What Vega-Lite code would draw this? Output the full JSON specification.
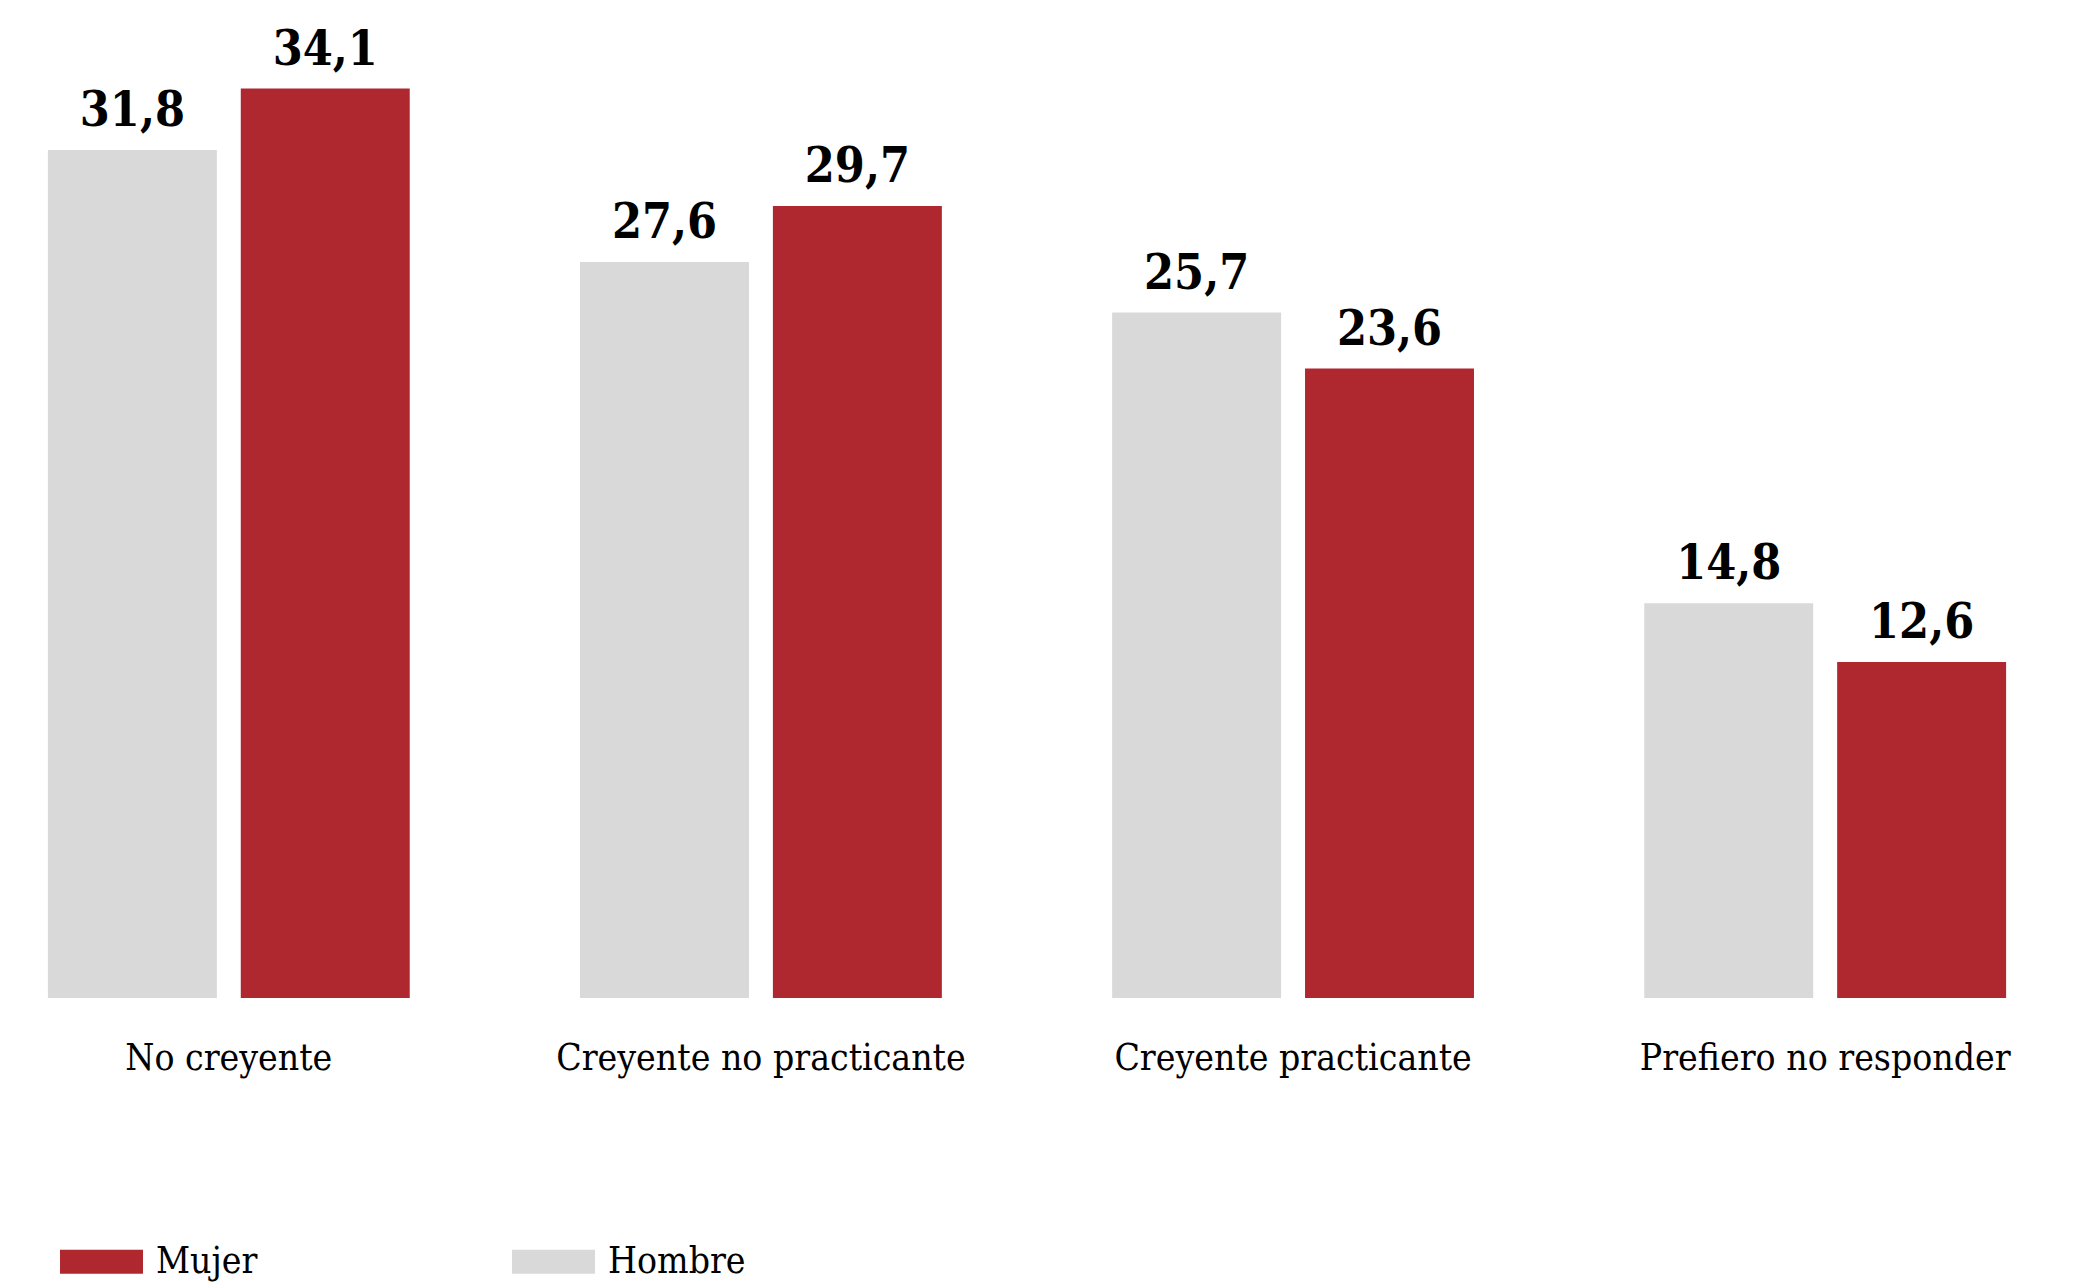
{
  "$schema": "https://vega.github.io/schema/vega-lite/v6.json",
  "width": 2054,
  "height": 998,
  "autosize": "none",
  "padding": {"left": 0, "top": 0, "right": 22, "bottom": 284},
  "background": "white",
  "config": {
    "view": {"stroke": null},
    "font": "DejaVu Serif Condensed",
    "locale": {"number": {"decimal": ",", "thousands": ".", "grouping": [3], "currency": ["", " €"]}}
  },
  "data": {
    "values": [
      {"categoria": "No creyente", "sexo": "Hombre", "valor": 31.8},
      {"categoria": "No creyente", "sexo": "Mujer", "valor": 34.1},
      {"categoria": "Creyente no practicante", "sexo": "Hombre", "valor": 27.6},
      {"categoria": "Creyente no practicante", "sexo": "Mujer", "valor": 29.7},
      {"categoria": "Creyente practicante", "sexo": "Hombre", "valor": 25.7},
      {"categoria": "Creyente practicante", "sexo": "Mujer", "valor": 23.6},
      {"categoria": "Prefiero no responder", "sexo": "Hombre", "valor": 14.8},
      {"categoria": "Prefiero no responder", "sexo": "Mujer", "valor": 12.6}
    ]
  },
  "encoding": {
    "x": {
      "field": "categoria",
      "type": "nominal",
      "sort": ["No creyente", "Creyente no practicante", "Creyente practicante", "Prefiero no responder"],
      "scale": {"paddingInner": 0.32, "paddingOuter": 0.09},
      "axis": {
        "title": null,
        "labelAngle": 0,
        "ticks": false,
        "domain": false,
        "labelFontSize": 37,
        "labelColor": "#000000",
        "labelPadding": 42,
        "labelLimit": 0,
        "labelFont": "DejaVu Serif Condensed"
      }
    },
    "xOffset": {
      "field": "sexo",
      "type": "nominal",
      "sort": ["Hombre", "Mujer"],
      "scale": {"paddingInner": 0.124, "paddingOuter": 0}
    },
    "y": {
      "field": "valor",
      "type": "quantitative",
      "scale": {"domain": [0, 37.42], "nice": false, "zero": true},
      "axis": null
    }
  },
  "layer": [
    {
      "mark": {"type": "bar"},
      "encoding": {
        "color": {
          "field": "sexo",
          "type": "nominal",
          "scale": {"domain": ["Mujer", "Hombre"], "range": ["#b0282f", "#d9d9d9"]},
          "legend": {
            "orient": "none",
            "legendX": 60,
            "legendY": 1220,
            "direction": "horizontal",
            "title": null,
            "padding": 0,
            "symbolType": "M-1,-0.29H1V0.29H-1Z",
            "symbolSize": 6889,
            "symbolStrokeWidth": 0,
            "symbolOpacity": 1,
            "labelFontSize": 37,
            "labelColor": "#000000",
            "labelFont": "DejaVu Serif Condensed",
            "labelOffset": 13,
            "columnPadding": 254
          }
        }
      }
    },
    {
      "mark": {"type": "text", "dy": -24, "baseline": "alphabetic", "align": "center", "fontSize": 48, "fontWeight": "bold", "color": "#000000"},
      "encoding": {
        "text": {"field": "valor", "type": "quantitative", "format": ".1f"}
      }
    }
  ]
}
